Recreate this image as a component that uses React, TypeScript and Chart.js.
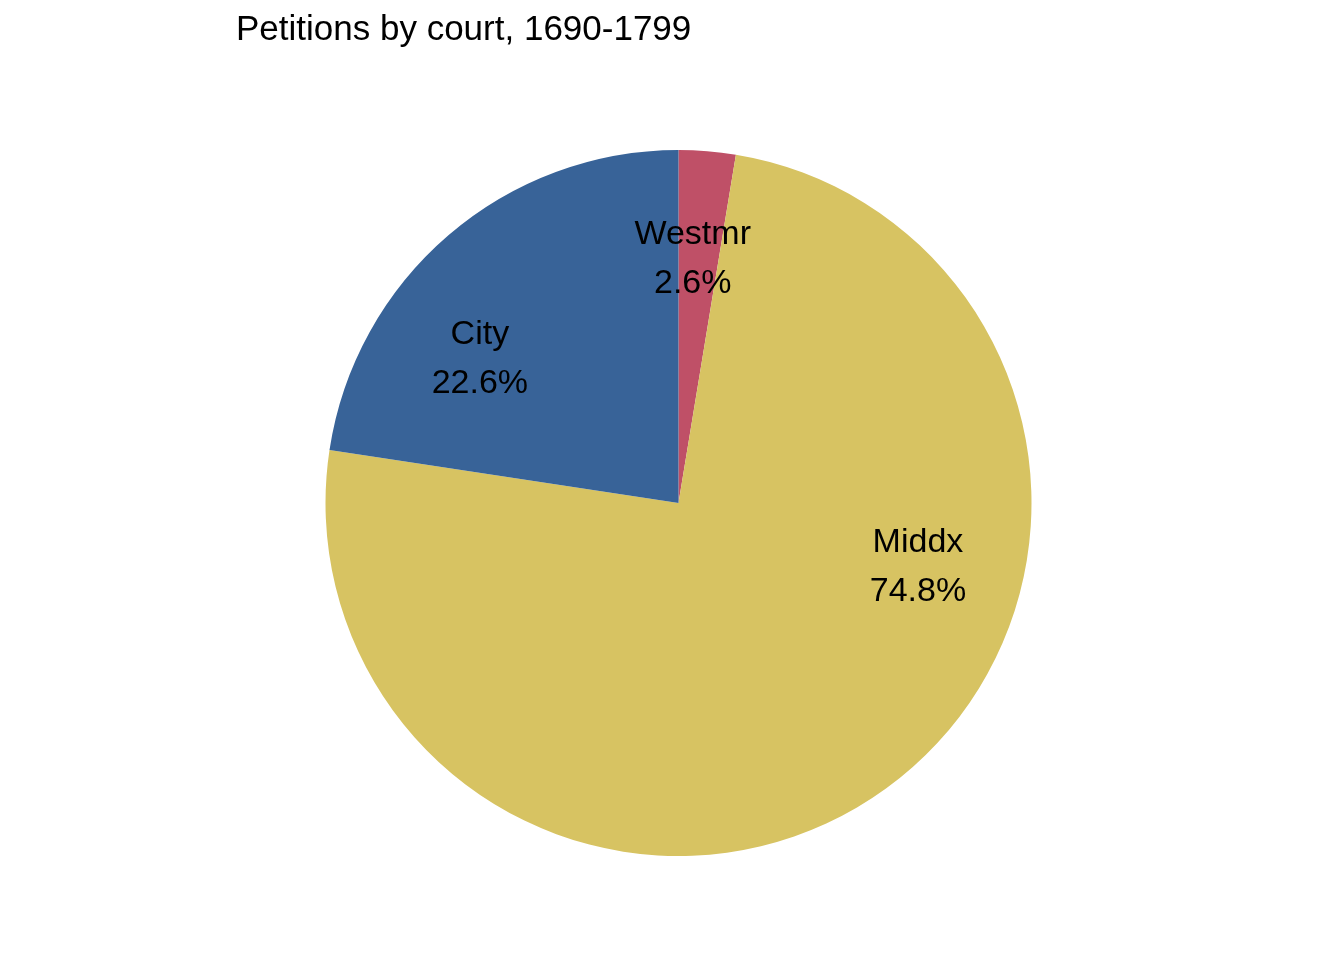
import { useEffect, useRef } from "react"
import { Chart, registerables } from "chart.js"

Chart.register(...registerables)

// Courts and their share of petitions, clockwise from the top
const courts = ["Westmr", "Middx", "City"]
const shares = [2.6, 74.8, 22.6]
const colours = ["#BF5067", "#D7C362", "#386398"]
// where each label sits: degrees clockwise from 12 o'clock, fraction of radius
const labelAngles = [3.3, 104.3, -53.5]
const labelRadius = 0.7

const FONT = "'Liberation Sans', Arial, sans-serif"

const labelPlugin = {
  id: "pieLabels",
  afterDatasetsDraw(chart: Chart) {
    const arc: any = chart.getDatasetMeta(0).data[0]
    if (!arc) return
    const { x, y, outerRadius } = arc
    const ctx = chart.ctx
    ctx.save()
    ctx.fillStyle = "#000"
    ctx.textAlign = "center"
    ctx.textBaseline = "alphabetic"
    ctx.font = `34px ${FONT}`
    courts.forEach((name, i) => {
      const a = (labelAngles[i] * Math.PI) / 180
      const cx = x + Math.sin(a) * outerRadius * labelRadius
      const cy = y - Math.cos(a) * outerRadius * labelRadius
      ctx.fillText(name, cx, cy - 12)
      ctx.fillText(shares[i].toFixed(1) + "%", cx, cy + 37)
    })
    // title
    ctx.textAlign = "left"
    ctx.font = `35px ${FONT}`
    ctx.fillText("Petitions by court, 1690-1799", 236, 40)
    ctx.restore()
  },
}

export default function App() {
  const chartRef = useRef<HTMLCanvasElement>(null)
  const chartInstance = useRef<Chart | null>(null)

  useEffect(() => {
    if (!chartRef.current) return
    if (chartInstance.current) chartInstance.current.destroy()

    chartInstance.current = new Chart(chartRef.current, {
      type: "pie",
      data: {
        labels: courts,
        datasets: [
          {
            data: shares,
            backgroundColor: colours,
            borderWidth: 0,
          },
        ],
      },
      options: {
        animation: false,
        responsive: false,
        layout: {
          padding: { top: 150, bottom: 104, left: 325, right: 312 },
        },
        plugins: {
          legend: { display: false },
          tooltip: { enabled: false },
        },
      },
      plugins: [labelPlugin],
    })

    return () => {
      chartInstance.current?.destroy()
      chartInstance.current = null
    }
  }, [])

  return (
    <div style={{ position: "absolute", left: 0, top: 0, width: 1344, height: 960, background: "#fff" }}>
      <canvas ref={chartRef} width={1344} height={960} />
    </div>
  )
}
